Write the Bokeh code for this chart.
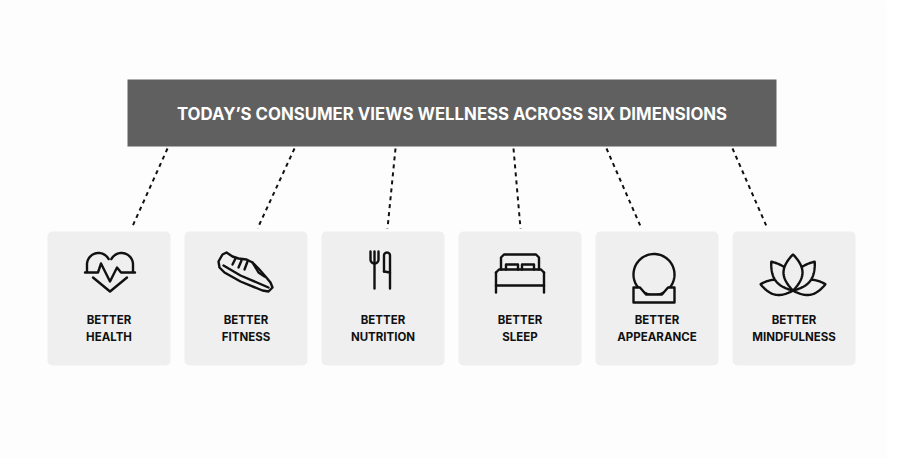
import numpy as np

from bokeh.plotting import figure
from bokeh.models import Range1d
from bokeh.core.properties import value
from bokeh.embed import file_html
from bokeh.resources import INLINE

##### DATA #####
title_text = "TODAY\u2019S CONSUMER VIEWS WELLNESS ACROSS SIX DIMENSIONS"
dimensions = ["HEALTH", "FITNESS", "NUTRITION", "SLEEP", "APPEARANCE", "MINDFULNESS"]
prefix = "BETTER"

##### LAYOUT (pixel coords, y grows downwards) #####
card_x0 = 47
card_w = 123
card_pitch = 137
card_top, card_bottom = 231, 365
centers = [card_x0 + card_w / 2 + i * card_pitch for i in range(len(dimensions))]

conn_top_x = [167, 294, 395, 513, 606, 732]
conn_bot_x = [131, 257, 387, 520, 641, 767]
conn_top_y, conn_bot_y = 148, 228

ink = "#111111"
card_fill = "#efefef"
lw = 2.4

p = figure(width=887, height=458, output_backend="svg", toolbar_location=None,
           x_range=Range1d(0, 887), y_range=Range1d(458, 0), min_border=0)
p.axis.visible = False
p.grid.visible = False
p.outline_line_color = None
p.background_fill_color = "#fdfdfd"
p.border_fill_color = "#fdfdfd"

#title banner
p.quad(left=[127], right=[776], top=[79], bottom=[146], fill_color="#606060", line_color=None)
p.text(x=[451.5], y=[113], text=[title_text], text_color="white", text_align="center",
       text_baseline="middle", text_font=value("Inter"), text_font_style="bold",
       text_font_size="16.8px")

#dashed connectors
p.segment(x0=conn_top_x, y0=[conn_top_y] * 6, x1=conn_bot_x, y1=[conn_bot_y] * 6,
          line_color=ink, line_width=2, line_dash="4 4")

#cards
p.quad(left=[c - card_w / 2 for c in centers], right=[c + card_w / 2 for c in centers],
       top=[card_top] * 6, bottom=[card_bottom] * 6, fill_color=card_fill,
       line_color=None, border_radius=5)

#labels
p.text(x=centers, y=[319.5] * 6, text=[prefix] * 6, text_color=ink, text_align="center",
       text_baseline="middle", text_font=value("Inter"), text_font_style="bold",
       text_font_size="11.5px")
p.text(x=centers, y=[336.5] * 6, text=dimensions, text_color=ink, text_align="center",
       text_baseline="middle", text_font=value("Inter"), text_font_style="bold",
       text_font_size="11.5px")


def arc(cx, cy, r, a0, a1, n=30):
    t = np.radians(np.linspace(a0, a1, n))
    return list(cx + r * np.cos(t)), list(cy - r * np.sin(t))


def stroke(xs, ys):
    p.line(xs, ys, line_color=ink, line_width=lw, line_join="round", line_cap="round")


def shape(xs, ys):
    p.patch(xs, ys, fill_color=card_fill, line_color=ink, line_width=lw, line_join="round")


#### ICONS ####
#health: heart with pulse
cx = centers[0] + 1
lx, ly = arc(cx - 11.5, 264, 11.5, 180, 28)
rx, ry = arc(cx + 11.5, 264, 11.5, 152, 0)
stroke([cx - 23, cx - 23] + lx, [271, 264] + ly)
stroke(rx + [cx + 23, cx + 23], ry + [264, 271])
stroke([cx - 17, cx, cx + 17], [277, 291, 277])
stroke([cx - 25, cx - 12, cx - 9, cx, cx + 7, cx + 11, cx + 25],
       [272, 272, 263, 281, 267, 272, 272])

#fitness: running shoe
shoe_x = [218, 222, 226, 232, 238, 246, 252, 258, 265, 270, 272, 268, 262, 240, 224, 219]
shoe_y = [261, 254, 252, 256, 258, 259, 262, 268, 276, 282, 287, 291, 290, 281, 272, 267]
shape(shoe_x, shoe_y)
stroke([223, 240, 268], [265, 275, 287])
stroke([235, 232], [258, 264])
stroke([241, 238], [260, 267])
stroke([247, 244], [261, 269])
stroke([252, 258, 264], [262, 272, 276])

#nutrition: fork and knife
cx = centers[2]
fx = cx - 8.5
ux, uy = arc(fx, 259, 4, 180, 360, 20)
stroke([fx - 4] + ux + [fx + 4], [251] + uy + [251])
stroke([fx, fx], [251, 288])
kx = cx + 1
tx, ty = arc(kx + 3, 255, 3, 180, 0, 15)
stroke([kx, kx] + tx + [kx + 6, kx + 6], [271, 255] + ty + [255, 288])
stroke([kx, kx + 6], [271, 272])

#sleep: bed
cx = centers[3]
stroke([cx - 24, cx - 24], [292, 272])
stroke([cx + 24, cx + 24], [292, 272])
stroke([cx - 24, cx - 21, cx + 21, cx + 24], [272, 269, 269, 272])
stroke([cx - 24, cx + 24], [285, 285])
stroke([cx - 19, cx - 19, cx - 16, cx + 16, cx + 19, cx + 19],
       [269, 257, 254, 254, 257, 269])
stroke([cx - 14, cx - 14, cx - 2, cx - 2], [269, 264, 264, 269])
stroke([cx + 2, cx + 2, cx + 14, cx + 14], [269, 264, 264, 269])

#appearance: mirror on stand
cx = centers[4] - 3
mx, my = arc(cx, 274, 20.5, 0, 360, 80)
shape(mx, my)
shape([cx - 20.5, cx - 20.5, cx + 20.5, cx + 20.5, cx + 14, cx + 8, cx - 8, cx - 14],
      [287, 302, 302, 287, 287, 294, 294, 287])


#mindfulness: lotus
def petal(bx, by, ang, length, width, n=40):
    t = np.linspace(0, 1, n)
    a = np.radians(ang)
    ux, uy = np.sin(a), -np.cos(a)
    vx, vy = -uy, ux
    half = width / 2 * np.sin(np.pi * t) ** 0.9
    xs = np.concatenate([bx + ux * length * t + vx * half,
                         (bx + ux * length * t - vx * half)[::-1]])
    ys = np.concatenate([by + uy * length * t + vy * half,
                         (by + uy * length * t - vy * half)[::-1]])
    return list(xs), list(ys)


cx = centers[5] - 1
for ang, length, width in [(-79, 33, 15), (79, 33, 15), (-37, 36, 16), (37, 36, 16), (0, 36, 19)]:
    px, py = petal(cx, 290, ang, length, width)
    shape(px, py)

open("out.html", "w").write(file_html(p, INLINE))
